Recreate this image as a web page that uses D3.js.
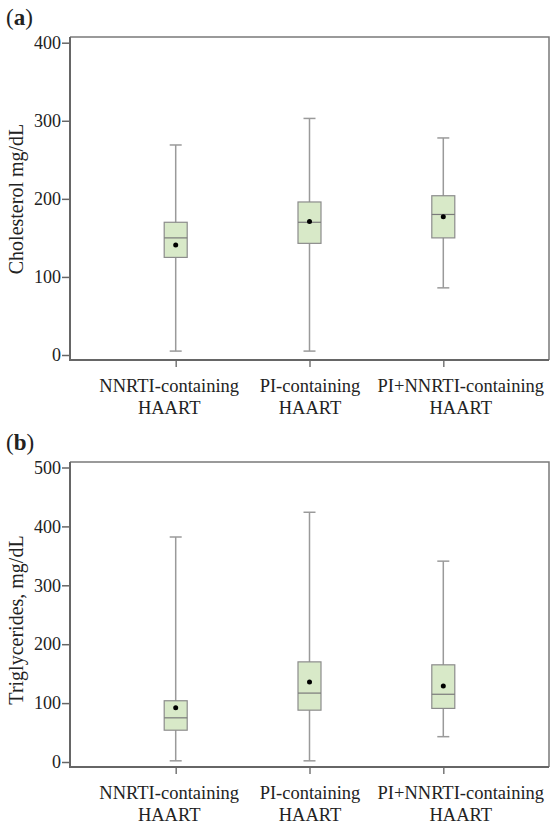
<!DOCTYPE html>
<html>
<head>
<meta charset="utf-8">
<script src="https://cdn.jsdelivr.net/npm/d3@7"></script>
<style>
  body { margin: 0; background: #fff; }
  svg text { font-family: "Liberation Serif", "DejaVu Serif", serif; fill: #222; }
</style>
</head>
<body>
<div class="graph_container"></div>
<script>
const w = 551;
const h = 824;

// categories (two-line labels)
const groups = ["NNRTI-containing HAART", "PI-containing HAART", "PI+NNRTI-containing HAART"];

// (a) cholesterol, mg/dL
const cholMin    = [5, 5, 86];
const cholQ1     = [125, 143, 150];
const cholMedian = [150, 170, 180];
const cholQ3     = [170, 196, 204];
const cholMax    = [269, 303, 278];
const cholMean   = [141, 171, 177];
const cholTicks  = [0, 100, 200, 300, 400];

// (b) triglycerides, mg/dL
const trigMin    = [2, 2, 43];
const trigQ1     = [54, 88, 91];
const trigMedian = [75, 117, 115];
const trigQ3     = [104, 170, 165];
const trigMax    = [382, 424, 341];
const trigMean   = [92, 136, 129];
const trigTicks  = [0, 100, 200, 300, 400, 500];

const svg = d3.select(".graph_container").append("svg").attr("width", w).attr("height", h);

// labels are nudged sideways so they don't run into each other
const labelShift = [-7, 0, 17];

function panel(opt) {
  const left = 70, right = 549;
  const g = svg.append("g");

  const xScale = d3.scalePoint().domain(groups).range([left, right]).padding(0.79);
  const yScale = d3.scaleLinear().domain(opt.domain).range(opt.range);

  const rows = groups.map((k, i) => ({
    k: k, min: opt.min[i], q1: opt.q1[i], med: opt.median[i], q3: opt.q3[i], max: opt.max[i], mean: opt.mean[i]
  }));

  // top / right frame
  g.append("path")
    .attr("d", "M" + left + "," + opt.top + "H" + right + "V" + opt.bottom)
    .attr("fill", "none")
    .attr("stroke", "#7a7a7a")
    .attr("stroke-width", 1.5);

  // y axis
  const yAxis = d3.axisLeft(yScale).tickValues(opt.ticks).tickSize(8).tickPadding(1).tickSizeOuter(0);
  const ya = g.append("g").attr("transform", "translate(" + left + ",0)").call(yAxis);
  ya.select(".domain").remove();
  ya.append("line").attr("x1", 0).attr("x2", 0).attr("y1", opt.top).attr("y2", opt.bottom + 1)
    .attr("stroke", "#666").attr("stroke-width", 2);
  ya.selectAll(".tick line").attr("stroke", "#666").attr("stroke-width", 1.5);
  ya.selectAll(".tick text").style("font-size", "18px").attr("fill", "#222")
    .attr("font-family", "Liberation Serif");

  // x axis
  const xAxis = d3.axisBottom(xScale).tickSize(7).tickFormat("");
  const xa = g.append("g").attr("transform", "translate(0," + opt.bottom + ")").call(xAxis);
  xa.select(".domain").remove();
  xa.append("line").attr("x1", left - 1).attr("x2", right).attr("y1", 0).attr("y2", 0)
    .attr("stroke", "#666").attr("stroke-width", 2);
  xa.selectAll(".tick line").attr("stroke", "#777").attr("stroke-width", 1.5);

  xa.selectAll(".tick").each(function (d, i) {
    const parts = d.split(" ");
    const t = d3.select(this).append("text")
      .attr("text-anchor", "middle")
      .style("font-size", "18.5px")
      .attr("fill", "#222")
      .attr("font-family", "Liberation Serif");
    t.append("tspan").attr("x", labelShift[i]).attr("y", 32).text(parts[0]);
    t.append("tspan").attr("x", labelShift[i]).attr("y", 54).text(parts[1]);
  });

  // y label
  g.append("text")
    .attr("transform", "translate(23," + opt.labelY + ") rotate(-90)")
    .attr("text-anchor", "middle")
    .style("font-size", "20px")
    .text(opt.label);

  // panel letter
  const pl = g.append("text").attr("x", 6).attr("y", opt.top - 12).style("font-size", "23px");
  pl.append("tspan").text("(");
  pl.append("tspan").attr("font-weight", "bold").text(opt.letter);
  pl.append("tspan").text(")");

  const bw = 23, cap = 12;
  const box = g.selectAll(".box").data(rows).enter().append("g").attr("class", "box");

  box.append("line")
    .attr("x1", d => xScale(d.k)).attr("x2", d => xScale(d.k))
    .attr("y1", d => yScale(d.max)).attr("y2", d => yScale(d.min))
    .attr("stroke", "#9a9a9a").attr("stroke-width", 1.5);
  box.append("line")
    .attr("x1", d => xScale(d.k) - cap / 2).attr("x2", d => xScale(d.k) + cap / 2)
    .attr("y1", d => yScale(d.max)).attr("y2", d => yScale(d.max))
    .attr("stroke", "#9a9a9a").attr("stroke-width", 1.5);
  box.append("line")
    .attr("x1", d => xScale(d.k) - cap / 2).attr("x2", d => xScale(d.k) + cap / 2)
    .attr("y1", d => yScale(d.min)).attr("y2", d => yScale(d.min))
    .attr("stroke", "#9a9a9a").attr("stroke-width", 1.5);
  box.append("rect")
    .attr("x", d => xScale(d.k) - bw / 2)
    .attr("width", bw)
    .attr("y", d => yScale(d.q3))
    .attr("height", d => yScale(d.q1) - yScale(d.q3))
    .attr("fill", "#d8e9c8")
    .attr("stroke", "#8c8c8c")
    .attr("stroke-width", 1.2);
  box.append("line")
    .attr("x1", d => xScale(d.k) - bw / 2).attr("x2", d => xScale(d.k) + bw / 2)
    .attr("y1", d => yScale(d.med)).attr("y2", d => yScale(d.med))
    .attr("stroke", "#7a7a7a").attr("stroke-width", 1.2);
  box.append("circle")
    .attr("cx", d => xScale(d.k))
    .attr("cy", d => yScale(d.mean))
    .attr("r", 2.5)
    .attr("fill", "#000");
}

panel({
  letter: "a", label: "Cholesterol mg/dL",
  top: 37, bottom: 360, domain: [0, 400], range: [355, 42.7], ticks: cholTicks, labelY: 199,
  min: cholMin, q1: cholQ1, median: cholMedian, q3: cholQ3, max: cholMax, mean: cholMean
});

panel({
  letter: "b", label: "Triglycerides, mg/dL",
  top: 462, bottom: 767, domain: [0, 500], range: [762, 467.5], ticks: trigTicks, labelY: 620,
  min: trigMin, q1: trigQ1, median: trigMedian, q3: trigQ3, max: trigMax, mean: trigMean
});
</script>
</body>
</html>
